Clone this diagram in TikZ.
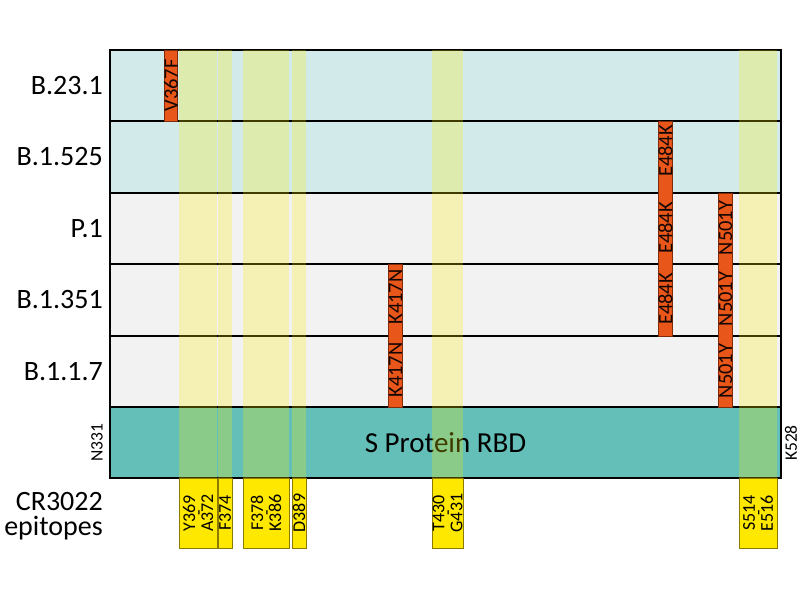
\documentclass[tikz,border=0pt]{standalone}
\usepackage{fontspec}
\setmainfont{Carlito}
\usepackage{tikz}
\usetikzlibrary{positioning}
\definecolor{rowblue}{HTML}{D3EAEA}
\definecolor{rowgray}{HTML}{F2F2F2}
\definecolor{rbdteal}{HTML}{63BFB8}
\definecolor{mutfill}{HTML}{E8561A}
\definecolor{mutedge}{HTML}{7F2A0A}
\definecolor{epifill}{HTML}{FFE800}
\definecolor{epiedge}{HTML}{8C7A00}
\definecolor{bandyellow}{HTML}{FFF000}
\setlength{\lineskiplimit}{-100pt}
\tikzset{
	rowlabel/.style={anchor=east,align=right,inner sep=0pt,font=\fontsize{28}{25}\selectfont},
	mutbar/.style={draw=mutedge,fill=mutfill,line width=0.8pt},
	mutlabel/.style={rotate=90,inner sep=0pt,text=black!85!mutedge,font=\fontsize{20.5}{20}\selectfont},
	endlabel/.style={rotate=90,inner sep=0pt,font=\fontsize{17.5}{17}\selectfont},
	band/.style={fill=bandyellow,opacity=0.25},
	epibox/.style={draw=epiedge,fill=epifill,line width=0.6pt,rotate=90,align=center,inner sep=0pt,
		minimum height=#1,minimum width=70pt,font=\fontsize{18}{9}\selectfont},
	frameline/.style={line width=1.6pt}
}
\begin{document}
\begin{tikzpicture}[x=1pt,y=-1pt]
	\useasboundingbox[fill=white] (0,0) rectangle (800,600);
	\fill[rowblue] (110,50) rectangle (781,193);
	\fill[rowgray] (110,193) rectangle (781,407);
	\fill[rbdteal] (110,407) rectangle (781,478);
	\draw[frameline] (110,121) -- (781,121);
	\draw[frameline] (110,193) -- (781,193);
	\draw[frameline] (110,264) -- (781,264);
	\draw[frameline] (110,336) -- (781,336);
	\draw[frameline] (110,407) -- (781,407);
	\draw[frameline] (110,50) rectangle (781,478);
	\draw[mutbar] (164,50) rectangle (177,121);
	\draw[mutbar] (658,121) rectangle (672,336);
	\draw[mutbar] (718,193) rectangle (732,407);
	\draw[mutbar] (388,264) rectangle (402,407);
	\node[mutlabel] (v367f) at (171,85.5) {V367F};
	\node[mutlabel] (e484ka) at (665.5,151) {E484K};
	\node[mutlabel] (e484kb) at (665.5,228) {E484K};
	\node[mutlabel] (e484kc) at (665.5,299) {E484K};
	\node[mutlabel] (n501ya) at (725.5,228) {N501Y};
	\node[mutlabel] (n501yb) at (725.5,299) {N501Y};
	\node[mutlabel] (n501yc) at (725.5,371) {N501Y};
	\node[mutlabel] (k417na) at (395.5,297) {K417N};
	\node[mutlabel] (k417nb) at (395.5,370) {K417N};
	\node[font=\fontsize{29}{29}\selectfont,inner sep=0pt] (rbd) at (445.5,442.5) {S Protein RBD};
	\node[endlabel] (n331) at (97,443) {N331};
	\node[endlabel] (k528) at (791,443) {K528};
	\fill[band] (179,50) rectangle (217,478);
	\fill[band] (218,50) rectangle (232,478);
	\fill[band] (243,50) rectangle (289,478);
	\fill[band] (292,50) rectangle (306,478);
	\fill[band] (432,50) rectangle (463,478);
	\fill[band] (739,50) rectangle (777,478);
	\node[epibox=38pt] (y369) at (198,513) {Y369\\{-}\\A372};
	\node[epibox=14pt] (f374) at (225,513) {F374};
	\node[epibox=46pt] (f378) at (266,513) {F378\\{-}\\K386};
	\node[epibox=14pt] (d389) at (299,513) {D389};
	\node[epibox=31pt] (t430) at (447.5,513) {T430\\{-}\\G431};
	\node[epibox=38pt] (s514) at (758,513) {S514\\{-}\\E516};
	\node[rowlabel] (b2331) at (103,85.5) {B.23.1};
	\node[rowlabel] (b1525) at (103,157) {B.1.525};
	\node[rowlabel] (p1) at (103,228.5) {P.1};
	\node[rowlabel] (b1351) at (103,300) {B.1.351};
	\node[rowlabel] (b117) at (103,371.5) {B.1.1.7};
	\node[rowlabel] (cr3022) at (103,516) {CR3022\\epitopes};
\end{tikzpicture}
\end{document}
